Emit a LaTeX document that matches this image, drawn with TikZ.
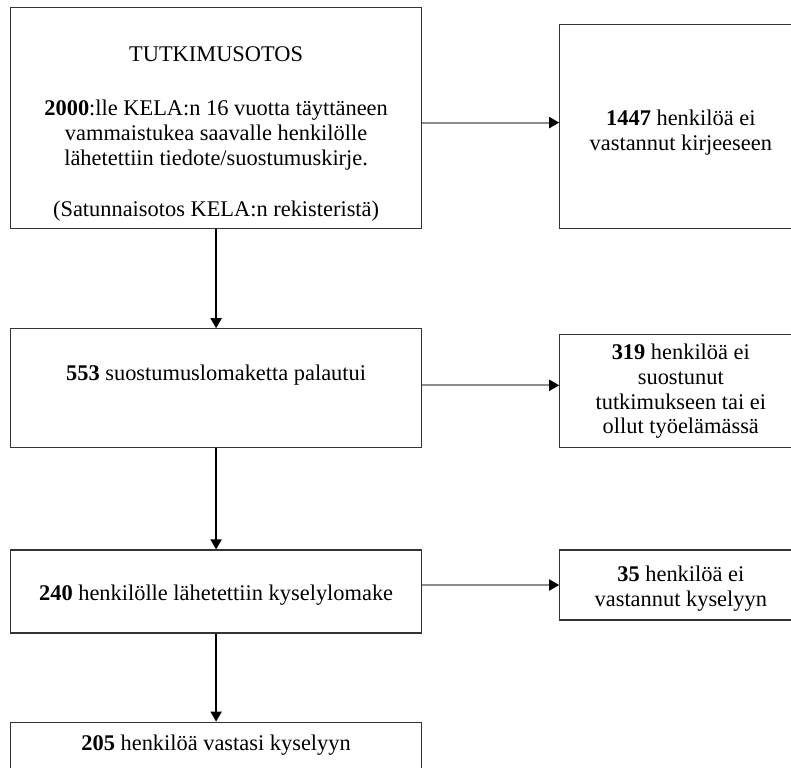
\documentclass[tikz,border=0pt]{standalone}
\usepackage{fontspec}
\setmainfont{Liberation Serif}
\usepackage{tikz}
\usetikzlibrary{positioning,arrows.meta}
\tikzset{>={Triangle[length=5pt,width=5.5pt,color=black]}}

\begin{document}
\begin{tikzpicture}[
x=0.5pt, y=-0.5pt,
box/.style={rectangle, draw=black!80, line width=0.6pt, align=center, inner sep=2pt, font=\fontsize{11.2pt}{12.4pt}\selectfont},
mainbox/.style={box, minimum width=205.5pt},
sidebox/.style={box, minimum width=121pt},
down/.style={->, line width=0.9pt},
side/.style={->, line width=0.9pt, black!45}
]
\useasboundingbox (0,0) rectangle (791,767);
\clip (0,0) rectangle (791,767);

% main column
\node (otos) [mainbox, minimum height=110.5pt, anchor=north west] at (10,7) {%
\rule{0pt}{23pt}TUTKIMUSOTOS\\[15pt]
\textbf{2000}:lle KELA:n 16 vuotta täyttäneen\\
vammaistukea saavalle henkilölle\\
lähetettiin tiedote/suostumuskirje.\\[13pt]
(Satunnaisotos KELA:n rekisteristä)};
\node (palautui) [mainbox, minimum height=59.5pt, text height=7.6pt, text depth=15pt, below=49.5pt of otos] {\textbf{553} suostumuslomaketta palautui};
\node (lomake) [mainbox, minimum height=41.5pt, text height=8.5pt, text depth=0pt, below=50.5pt of palautui] {\textbf{240} henkilölle lähetettiin kyselylomake};
\node (vastasi) [mainbox, minimum height=36pt, text height=7.6pt, text depth=15.6pt, below=44pt of lomake] {\textbf{205} henkilöä vastasi kyselyyn};

% drop-outs
\node (eikirje) [sidebox, minimum height=102pt, right=68.5pt of otos.south east, anchor=south west] {\rule{0pt}{13.5pt}\textbf{1447} henkilöä ei\\ vastannut kirjeeseen};
\node (eisuostu) [sidebox, minimum height=56.5pt, right=68.5pt of palautui.south east, anchor=south west] {\textbf{319} henkilöä ei\\ suostunut\\ tutkimukseen tai ei\\ ollut työelämässä};
\node (eikysely) [sidebox, minimum height=35pt, right=68.5pt of lomake.north east, anchor=north west] {\rule{0pt}{11.6pt}\textbf{35} henkilöä ei\\ vastannut kyselyyn};

\coordinate (k1) at ([yshift=2pt]eikirje.west);
\coordinate (k2) at ([yshift=3pt]eisuostu.west);

\draw [down] (otos) -- (palautui);
\draw [down] (palautui) -- (lomake);
\draw [down] (lomake) -- (vastasi);

\draw [side] (k1 -| otos.east) -- (k1);
\draw [side] (k2 -| palautui.east) -- (k2);
\draw [side] (eikysely.west -| lomake.east) -- (eikysely.west);
\end{tikzpicture}
\end{document}
